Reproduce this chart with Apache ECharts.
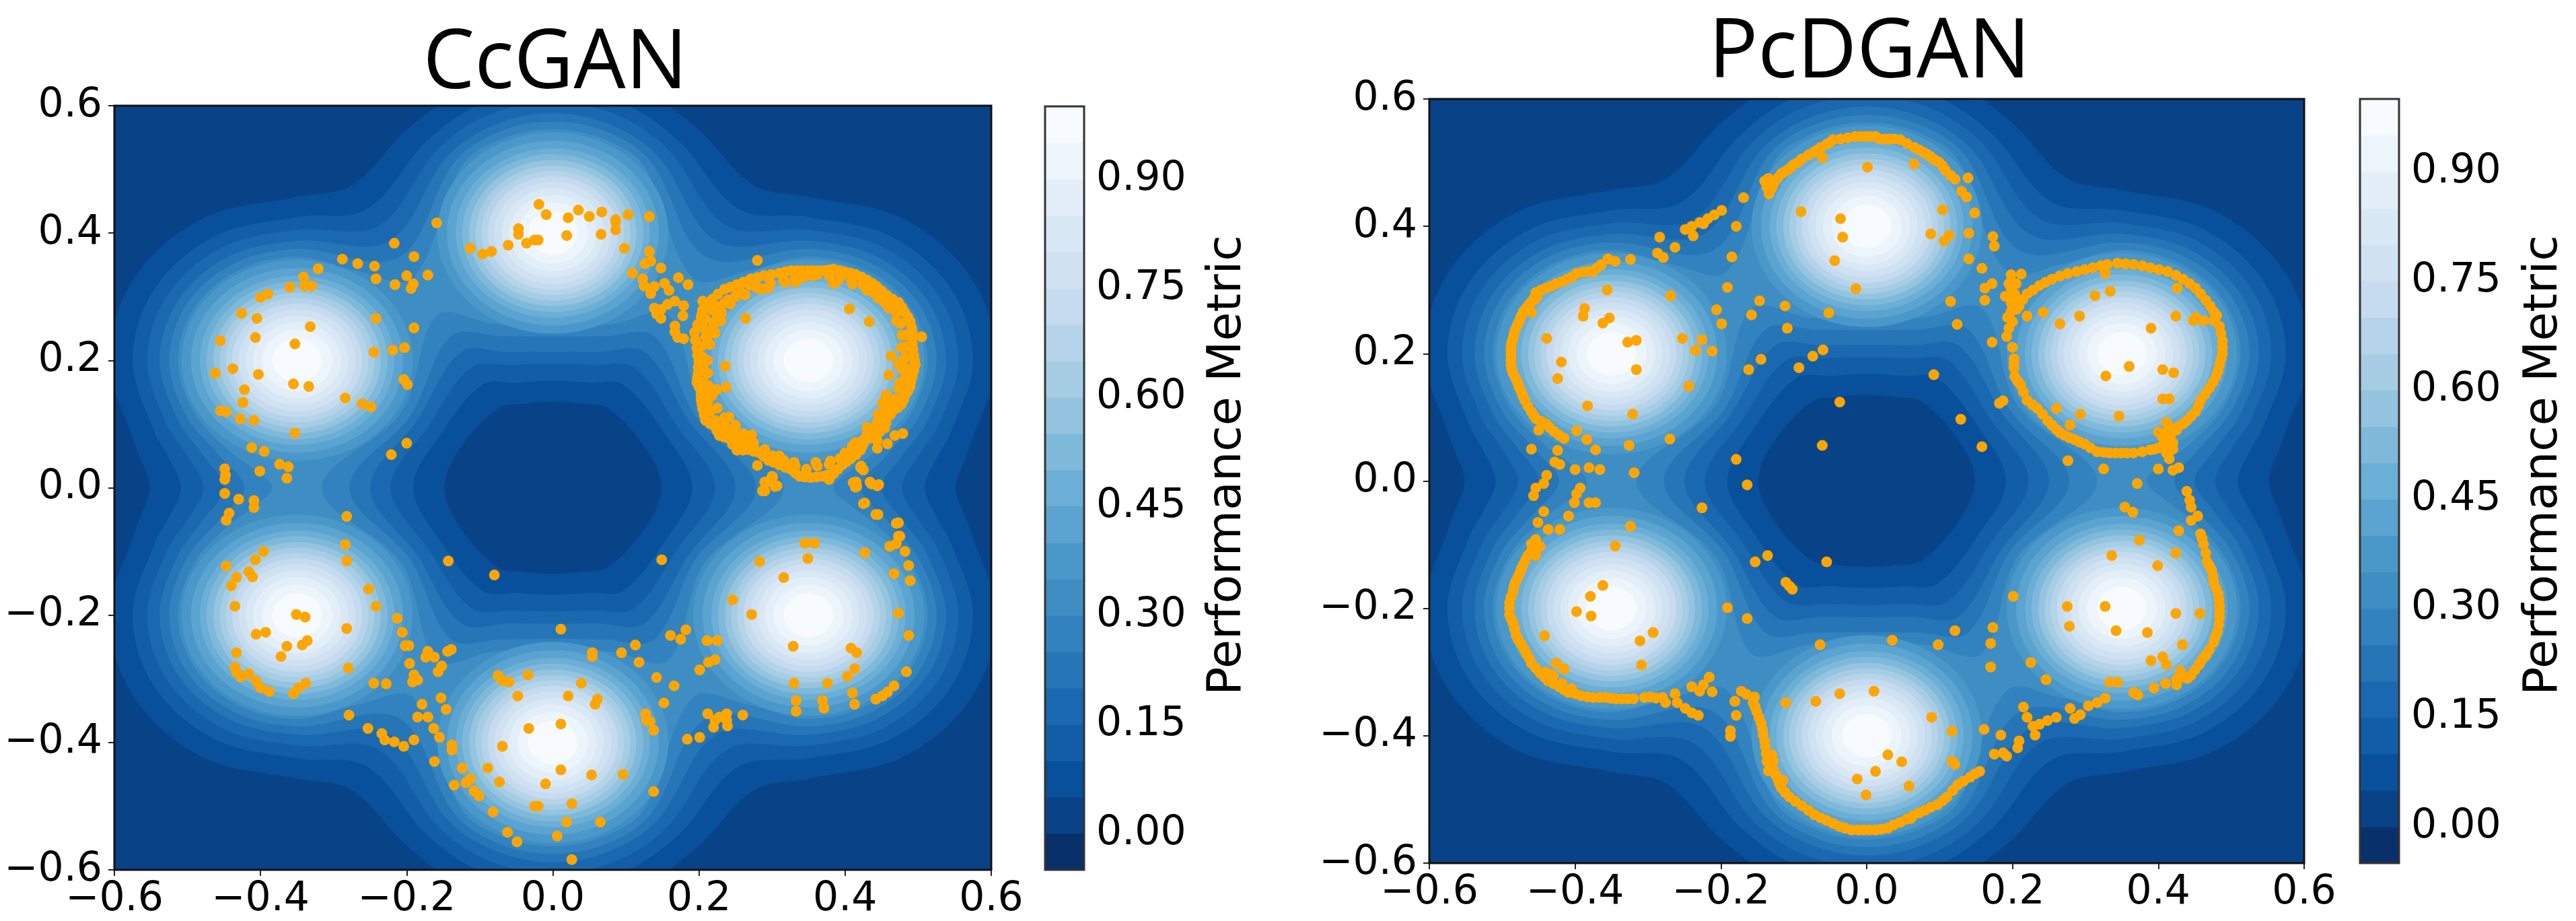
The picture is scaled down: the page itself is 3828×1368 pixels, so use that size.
<!DOCTYPE html>
<html>
<head>
<meta charset="utf-8">
<script src="https://cdn.jsdelivr.net/npm/echarts@6/dist/echarts.min.js"></script>
<style>html,body{margin:0;padding:0;background:#fff}#chart{width:3828px;height:1368px}</style>
</head>
<body>
<div id="chart"></div>
<script>
var colorbarTicks = [0, 0.15, 0.3, 0.45, 0.6, 0.75, 0.9];
var bandEdges = [-0.05, 0, 0.05, 0.1, 0.15, 0.2, 0.25, 0.3, 0.35, 0.4, 0.45, 0.5, 0.55, 0.6, 0.65, 0.7, 0.75, 0.8, 0.85, 0.9, 0.95, 1];
var bandColors = ['#08306b', '#094387', '#08509b', '#115ea7', '#1a69b0', '#2575b7', '#3282bf', '#3e8ec4', '#4a98c9', '#5ba3d0', '#6baed6', '#7fb9da', '#94c4df', '#a6cde4', '#b6d4e9', '#c6dbef', '#d0e1f2', '#d9e8f5', '#e3eef9', '#edf5fc', '#f7fbff'];

// performance metric: centres of the six bumps
var peaks = [[0, 0.4], [0.35, 0.2], [0.35, -0.2], [0, -0.4], [-0.35, -0.2], [-0.35, 0.2]];
// contour radius round a bump for the levels 0.35 .. 0.95
var ringLevels = [0.35, 0.4, 0.45, 0.5, 0.55, 0.6, 0.65, 0.7, 0.75, 0.8, 0.85, 0.9, 0.95];
var ringRadii = [0.158, 0.145, 0.133, 0.124, 0.1145, 0.106, 0.0975, 0.089, 0.08, 0.07, 0.06, 0.048, 0.034];
var mergedLevels = [0.05, 0.1, 0.15, 0.2, 0.25, 0.3];
var outerContours = [
    [[0, 0.657], [0.109, 0.633], [0.197, 0.565], [0.275, 0.475], [0.35, 0.457], [0.479, 0.423], [0.573, 0.329], [0.607, 0.2], [0.573, 0.072], [0.566, 0.05], [0.5515, 0]],
    [[0, 0.625], [0.095, 0.604], [0.172, 0.545], [0.254, 0.438], [0.35, 0.425], [0.4625, 0.395], [0.545, 0.3125], [0.575, 0.2], [0.545, 0.0875], [0.527, 0.05], [0.509, 0]],
    [[0, 0.605], [0.087, 0.586], [0.157, 0.532], [0.2385, 0.411], [0.35, 0.405], [0.4525, 0.3775], [0.5275, 0.3025], [0.555, 0.2], [0.5275, 0.0975], [0.5, 0.05], [0.478, 0]],
    [[0, 0.588], [0.079, 0.57], [0.144, 0.521], [0.2246, 0.387], [0.35, 0.388], [0.444, 0.363], [0.513, 0.294], [0.538, 0.2], [0.513, 0.106], [0.478, 0.05], [0.45, 0]],
    [[0, 0.575], [0.074, 0.559], [0.134, 0.5125], [0.2106, 0.362], [0.35, 0.375], [0.4375, 0.3516], [0.5016, 0.2875], [0.525, 0.2], [0.5016, 0.1125], [0.456, 0.05], [0.422, 0]],
    [[0, 0.563], [0.069, 0.548], [0.125, 0.505], [0.192, 0.329], [0.2685, 0.341], [0.35, 0.363], [0.4315, 0.341], [0.491, 0.2815], [0.513, 0.2], [0.491, 0.1185], [0.445, 0.06], [0.41, 0.03], [0.384, 0]]
];
var holeContours = [
    [[0, 0.135], [0.04, 0.132], [0.075, 0.125], [0.127, 0.062], [0.1485, 0]],
    [[0, 0.168], [0.05, 0.165], [0.096, 0.162], [0.153, 0.085], [0.191, 0]],
    [[0, 0.1945], [0.055, 0.193], [0.1115, 0.189], [0.17, 0.097], [0.222, 0]],
    [[0, 0.2135], [0.06, 0.213], [0.1254, 0.213], [0.185, 0.107], [0.25, 0]],
    [[0, 0.237], [0.07, 0.238], [0.139, 0.238], [0.195, 0.113], [0.278, 0]],
    [[0, 0.255], [0.08, 0.257], [0.158, 0.271], [0.207, 0.119], [0.316, 0]]
];

var ccganPoints = [
    [-0.019,0.445],[-0.009,0.429],[0.021,0.424],[0.035,0.436],[0.05,0.426],[0.067,0.433],[0.086,0.421],[0.086,0.417],[0.086,0.405],[0.103,0.429],[0.132,0.426],[0.066,0.398],[0.019,0.396],[0.098,0.376],[0.132,0.371],[0.134,0.356],[0.126,0.352],[0.148,0.345],[0.109,0.337],[0.123,0.328],[0.125,0.317],[0.139,0.316],[0.134,0.305],[0.153,0.321],[0.159,0.31],[0.172,0.33],[0.185,0.319],[0.167,0.293],[0.157,0.288],[0.179,0.286],[0.139,0.282],[0.148,0.28],[0.142,0.273],[0.148,0.266],[0.178,0.27],[0.167,0.254],[0.167,0.245],[0.171,0.236],[0.179,0.234],
    [-0.047,0.407],[-0.047,0.398],[-0.036,0.384],[-0.025,0.389],[-0.02,0.389],[-0.061,0.381],[-0.084,0.371],[-0.096,0.367],[-0.113,0.376],[-0.159,0.416],[-0.171,0.334],
    [-0.217,0.384],[-0.19,0.363],[-0.288,0.359],[-0.267,0.352],[-0.244,0.348],[-0.321,0.344],[-0.242,0.328],[-0.2,0.333],[-0.341,0.331],[-0.216,0.319],[-0.191,0.32],[-0.194,0.313],[-0.36,0.315],[-0.34,0.317],[-0.33,0.317],[-0.39,0.304],[-0.4,0.299],[-0.426,0.274],[-0.405,0.266],[-0.242,0.266],[-0.19,0.251],[-0.332,0.253],[-0.455,0.231],[-0.407,0.236],[-0.353,0.226],[-0.203,0.22],[-0.219,0.216],[-0.245,0.213],[-0.462,0.18],[-0.438,0.187],[-0.403,0.178],[-0.355,0.163],[-0.334,0.159],[-0.204,0.17],[-0.199,0.162],[-0.422,0.154],[-0.424,0.134],[-0.284,0.141],[-0.261,0.132],[-0.249,0.127],[-0.455,0.121],[-0.447,0.119],[-0.428,0.108],[-0.409,0.106],[-0.353,0.086],[-0.2,0.07],[-0.221,0.052],[-0.412,0.063],[-0.395,0.057],[-0.374,0.037],[-0.362,0.033],[-0.401,0.026],[-0.364,0.015],[-0.449,0.03],[-0.448,0.02],[-0.449,0.013],[-0.449,-0.009],[-0.43,-0.018],[-0.409,-0.02],[-0.409,-0.031],[-0.443,-0.04],[-0.447,-0.051],[-0.282,-0.045],[-0.284,-0.089],
    [-0.282,-0.115],[-0.396,-0.1],[-0.407,-0.113],[-0.447,-0.123],[-0.433,-0.141],[-0.416,-0.132],[-0.411,-0.14],[-0.44,-0.154],[-0.252,-0.159],[-0.435,-0.186],[-0.242,-0.186],[-0.213,-0.205],[-0.206,-0.227],[-0.351,-0.199],[-0.339,-0.203],[-0.282,-0.221],[-0.406,-0.23],[-0.393,-0.227],[-0.336,-0.24],[-0.343,-0.247],[-0.364,-0.249],[-0.372,-0.265],[-0.433,-0.259],[-0.435,-0.282],[-0.433,-0.289],[-0.427,-0.297],[-0.416,-0.292],[-0.406,-0.304],[-0.4,-0.314],[-0.388,-0.32],[-0.355,-0.323],[-0.348,-0.314],[-0.338,-0.307],[-0.28,-0.283],[-0.245,-0.307],[-0.228,-0.308],[-0.279,-0.357],[-0.253,-0.378],[-0.234,-0.386],[-0.23,-0.396],[-0.217,-0.399],[-0.204,-0.406],[-0.19,-0.396],
    [-0.202,-0.248],[-0.197,-0.248],[-0.171,-0.257],[-0.174,-0.266],[-0.162,-0.266],[-0.139,-0.254],[-0.144,-0.257],[-0.196,-0.276],[-0.152,-0.28],[-0.157,-0.289],[-0.19,-0.294],[-0.192,-0.305],[-0.185,-0.302],[-0.153,-0.33],[-0.179,-0.34],[-0.146,-0.348],[-0.185,-0.36],[-0.171,-0.36],[-0.163,-0.378],[-0.155,-0.392],[-0.138,-0.404],[-0.138,-0.412],[-0.162,-0.43],[-0.124,-0.44],[-0.113,-0.457],[-0.119,-0.463],[-0.135,-0.467],[-0.108,-0.476],[-0.101,-0.484],[-0.082,-0.509],[-0.089,-0.44],[-0.073,-0.462],[-0.062,-0.541],[-0.049,-0.556],[-0.025,-0.5],[-0.02,-0.5],[-0.01,-0.465],[0.011,-0.443],[0.026,-0.496],[0.019,-0.525],[0.065,-0.525],[0.006,-0.547],[0.026,-0.584],[0.053,-0.451],[0.096,-0.45],[0.138,-0.477],[-0.069,-0.406],[-0.033,-0.378],[0.011,-0.371],[-0.075,-0.295],[-0.069,-0.303],[-0.06,-0.305],[-0.034,-0.294],[-0.048,-0.327],[0.021,-0.327],[0.039,-0.307],[0.061,-0.332],[0.058,-0.34],[0.011,-0.222],[0.054,-0.259],[0.054,-0.265],[0.094,-0.259],[0.113,-0.247],[0.118,-0.274],[0.142,-0.298],[0.166,-0.311],[0.152,-0.338],[0.127,-0.355],[0.128,-0.365],[0.133,-0.367],[0.138,-0.381],[0.161,-0.232],[0.175,-0.238],[0.182,-0.223],[0.211,-0.24],[0.225,-0.24],[0.201,-0.286],[0.213,-0.274],[0.222,-0.27],[0.184,-0.395],[0.201,-0.392],[0.212,-0.355],[0.222,-0.365],[0.238,-0.355],[0.26,-0.357],[0.22,-0.376],[0.239,-0.374],[0.228,-0.36],[0.238,-0.365],
    [0.283,-0.116],[0.316,-0.141],[0.345,-0.087],[0.358,-0.087],[0.349,-0.111],[0.246,-0.176],[0.272,-0.199],[0.329,-0.249],[0.408,-0.252],[0.416,-0.259],[0.413,-0.284],[0.403,-0.296],[0.41,-0.322],[0.413,-0.34],[0.33,-0.307],[0.376,-0.307],[0.333,-0.334],[0.333,-0.351],[0.369,-0.334],[0.371,-0.346],[0.442,-0.332],[0.451,-0.327],[0.458,-0.321],[0.467,-0.311],[0.484,-0.289],[0.487,-0.232],[0.473,-0.197],[0.427,-0.102],[0.461,-0.092],[0.47,-0.088],[0.475,-0.076],[0.482,-0.1],[0.487,-0.122],[0.467,-0.135],[0.489,-0.146],[0.473,-0.055],[0.445,-0.042],[0.427,-0.024],[0.415,0.009],[0.416,0.002],[0.436,0.006],[0.446,0.005],[0.422,0.034],[0.425,0.028],[0.307,0.003],[0.29,-0.005],[0.293,0.009],[0.301,0.017],[0.149,-0.113],[-0.08,-0.137],[-0.143,-0.115],
    [0.28,0.357],[0.264,0.266],[0.406,0.281],[0.433,0.261],[0.505,0.237],[0.236,0.191],[0.237,0.158],[0.224,0.154],[0.463,0.207],[0.473,0.194],[0.46,0.177],[0.456,0.146],[0.451,0.133],[0.241,0.111],[0.272,0.083],[0.28,0.035],[0.3,0.018],[0.29,0.009],[0.287,-0.005],[0.304,0.002],[0.378,0.013],[0.421,0.032],[0.411,0.008],[0.414,0.001],[0.434,0.009],[0.444,0.003],[0.425,-0.025],[0.442,-0.042],[0.47,-0.056],[0.473,-0.076],[0.444,0.074],[0.444,0.062],[0.458,0.069],[0.468,0.082],[0.479,0.085],[0.332,0.323],[0.318,0.323],[0.384,0.321],[0.356,0.333],[0.263,0.303],[0.205,0.293],[0.286,0.312],[0.295,0.314],
    [0.31,0.337],[0.326,0.341],[0.341,0.341],[0.356,0.341],[0.372,0.341],[0.384,0.343],[0.399,0.339],[0.414,0.335],[0.43,0.326],[0.443,0.316],[0.457,0.302],[0.473,0.291],[0.482,0.275],[0.489,0.261],[0.492,0.244],[0.492,0.226],[0.494,0.208],[0.496,0.193],[0.492,0.175],[0.489,0.159],[0.482,0.145],[0.477,0.131],[0.466,0.122],[0.457,0.11],[0.454,0.094],[0.439,0.082],[0.427,0.074],[0.421,0.059],[0.408,0.046],[0.396,0.036],[0.384,0.022],[0.369,0.018],[0.353,0.016],[0.338,0.018],[0.326,0.029],[0.31,0.036],[0.295,0.043],[0.283,0.055],[0.267,0.06],[0.252,0.059],[0.24,0.078],[0.228,0.082],[0.222,0.096],[0.209,0.106],[0.205,0.124],[0.203,0.138],[0.203,0.152],[0.197,0.166],[0.199,0.18],[0.2,0.198],[0.197,0.219],[0.194,0.244],[0.203,0.268],[0.205,0.279],[0.218,0.296],[0.235,0.312],[0.252,0.319],[0.271,0.328],[0.289,0.333],
    [0.316,0.325],[0.332,0.33],[0.347,0.333],[0.362,0.335],[0.378,0.333],[0.393,0.33],[0.408,0.328],[0.424,0.319],[0.439,0.307],[0.454,0.291],[0.47,0.275],[0.476,0.258],[0.483,0.24],[0.483,0.222],[0.483,0.205],[0.485,0.187],[0.482,0.17],[0.473,0.156],[0.47,0.138],[0.457,0.131],[0.451,0.11],[0.442,0.096],[0.43,0.085],[0.414,0.071],[0.408,0.057],[0.393,0.046],[0.378,0.037],[0.362,0.034],[0.347,0.029],[0.332,0.034],[0.316,0.043],[0.301,0.05],[0.286,0.053],[0.267,0.069],[0.255,0.074],[0.24,0.089],[0.231,0.092],[0.222,0.106],[0.215,0.12],[0.212,0.134],[0.206,0.148],[0.206,0.166],[0.206,0.187],[0.205,0.205],[0.203,0.222],[0.209,0.237],[0.218,0.247],[0.222,0.261],[0.231,0.275],[0.243,0.289],[0.261,0.304],[0.28,0.314],[0.298,0.321],[0.218,0.279],[0.209,0.265],[0.206,0.251],
    [0.318,0.339],[0.334,0.341],[0.349,0.341],[0.364,0.341],[0.378,0.342],[0.392,0.341],[0.407,0.337],[0.422,0.331],[0.437,0.321],[0.45,0.309],[0.465,0.296],[0.478,0.283],[0.486,0.268],[0.491,0.252],[0.492,0.235],[0.493,0.217],[0.495,0.2],[0.494,0.184],[0.49,0.167],[0.486,0.152],[0.48,0.138],[0.472,0.126],[0.462,0.116],[0.456,0.102],[0.447,0.088],[0.433,0.078],[0.424,0.066],[0.415,0.052],[0.402,0.041],[0.39,0.029],[0.376,0.02],[0.361,0.017],[0.345,0.017],[0.332,0.023],[0.318,0.032],[0.302,0.04],[0.289,0.049],[0.275,0.057],[0.26,0.059],[0.246,0.068],[0.234,0.08],[0.225,0.089],[0.215,0.101],[0.207,0.115],[0.204,0.131],[0.203,0.145],[0.2,0.159],[0.198,0.173],[0.199,0.189],[0.198,0.208],[0.195,0.232],[0.198,0.256],[0.204,0.273],[0.211,0.287],[0.226,0.304],[0.243,0.315],[0.261,0.323],[0.28,0.33],[0.299,0.335],
    [0.225,0.27],[0.22,0.255],[0.213,0.24],[0.235,0.29],[0.25,0.3],[0.235,0.098],[0.25,0.085],[0.262,0.07],[0.275,0.063],[0.245,0.08],[0.465,0.135],[0.47,0.125],[0.455,0.125],[0.476,0.14],[0.462,0.115],[0.45,0.3],[0.465,0.285],[0.46,0.295],[0.425,0.075],[0.435,0.09],[0.41,0.065],[0.445,0.105],
    [0.215,0.29],[0.228,0.285],[0.24,0.295],[0.255,0.31],[0.27,0.318],[0.23,0.262],[0.222,0.243],[0.215,0.225],[0.212,0.2],[0.212,0.18],[0.213,0.16],[0.218,0.145],[0.225,0.125],[0.235,0.11],[0.25,0.098],[0.26,0.085],[0.275,0.07],[0.29,0.06],[0.31,0.05],[0.33,0.04],[0.36,0.04],[0.38,0.042],[0.4,0.055],[0.415,0.062],[0.43,0.095],[0.445,0.115],[0.462,0.14],[0.475,0.165],[0.479,0.185],[0.479,0.2],[0.477,0.22],[0.478,0.24],[0.47,0.262],[0.46,0.282],[0.445,0.298],[0.43,0.31],[0.41,0.32],[0.39,0.325],[0.34,0.33]
];

var pcdganPoints = [
    [-0.14,0.471],[-0.137,0.462],[-0.134,0.451],[-0.128,0.467],[-0.122,0.476],[-0.117,0.483],[-0.108,0.489],[-0.1,0.497],[-0.089,0.506],[-0.072,0.517],[-0.063,0.524],[-0.055,0.529],[-0.046,0.536],[-0.036,0.537],[-0.016,0.541],[-0.001,0.541],[0.012,0.541],[0.018,0.537],[0.031,0.537],[0.046,0.536],[0.065,0.524],[0.072,0.52],[0.083,0.513],[0.091,0.506],[0.099,0.501],[0.108,0.488],[0.121,0.474],[0.139,0.476],[0.13,0.455],[0.137,0.446],[0.148,0.421],[0.173,0.384],[0.175,0.369],[0.14,0.389],[0.14,0.349],[0.158,0.334],[0.172,0.31],[0.162,0.303],[0.162,0.284],[0.115,0.282],[0.124,0.246],[0.172,0.218],[0.182,0.122],[0.187,0.126],[0.129,0.097],[0.158,0.054],[0.092,0.167],[-0.061,0.508],[0.065,0.498],[0.001,0.493],
    [-0.036,0.412],[-0.09,0.423],[-0.033,0.383],[-0.044,0.346],[-0.015,0.302],[-0.052,0.264],[0.104,0.426],[0.088,0.388],[0.113,0.386],[0.106,0.377],
    [-0.169,0.445],[-0.199,0.425],[-0.209,0.418],[-0.218,0.412],[-0.229,0.406],[-0.24,0.4],[-0.249,0.395],[-0.224,0.404],[-0.179,0.4],[-0.238,0.385],[-0.263,0.367],[-0.284,0.383],[-0.287,0.358],[-0.279,0.351],[-0.185,0.352],[-0.191,0.304],[-0.206,0.269],[-0.199,0.247],[-0.158,0.261],[-0.147,0.283],[-0.112,0.275],[-0.109,0.24],[-0.145,0.191],[-0.162,0.175],[-0.093,0.178],[-0.074,0.196],[-0.06,0.206],[-0.037,0.124],[-0.061,0.056],[-0.179,0.034],[-0.164,-0.006],[-0.226,-0.042],[-0.153,-0.127],[-0.136,-0.117],[-0.055,-0.127],[-0.111,-0.159],[-0.106,-0.165],[-0.102,-0.17],[-0.191,-0.199],[-0.164,-0.216],[-0.064,-0.257],[0.035,-0.25],[0.098,-0.257],[0.121,-0.235],[0.173,-0.23],[0.17,-0.255],[0.17,-0.292],[0.201,-0.181],[0.225,-0.285],[0.246,-0.312],
    [-0.324,0.348],[-0.355,0.349],[-0.364,0.34],[-0.375,0.329],[-0.389,0.328],[-0.398,0.326],[-0.411,0.317],[-0.426,0.31],[-0.44,0.303],[-0.454,0.296],[-0.457,0.286],[-0.465,0.275],[-0.471,0.266],[-0.476,0.252],[-0.482,0.238],[-0.485,0.224],[-0.488,0.211],[-0.488,0.197],[-0.488,0.183],[-0.485,0.169],[-0.479,0.155],[-0.474,0.141],[-0.469,0.127],[-0.46,0.109],[-0.454,0.098],[-0.44,0.09],[-0.429,0.078],[-0.415,0.067],[-0.398,0.079],[-0.384,0.065],[-0.372,0.049],[-0.46,0.05],[-0.424,0.048],[-0.428,0.03],[-0.421,0.026],[-0.439,0.009],[-0.4,0.018],[-0.381,0.021],[-0.366,0.018],[-0.319,0.013],[-0.393,-0.011],[-0.398,-0.02],[-0.401,-0.034],[-0.381,-0.034],[-0.372,-0.034],[-0.454,-0.011],[-0.443,-0.004],[-0.457,-0.023],[-0.443,-0.048],[-0.451,-0.065],[-0.437,-0.076],[-0.454,-0.092],[-0.409,-0.055],[-0.421,-0.076],[-0.46,-0.099],[-0.448,-0.103],[-0.454,-0.117],
    [-0.356,0.3],[-0.269,0.291],[-0.387,0.271],[-0.389,0.259],[-0.362,0.248],[-0.353,0.256],[-0.328,0.218],[-0.316,0.221],[-0.439,0.224],[-0.419,0.187],[-0.424,0.161],[-0.316,0.175],[-0.383,0.118],[-0.321,0.105],[-0.326,0.056],[-0.27,0.066],[-0.253,0.224],[-0.226,0.222],[-0.235,0.205],[-0.212,0.204],[-0.244,0.149],
    [-0.324,-0.071],[-0.345,-0.102],[-0.465,-0.117],[-0.471,-0.131],[-0.476,-0.145],[-0.482,-0.159],[-0.485,-0.173],[-0.49,-0.191],[-0.49,-0.21],[-0.485,-0.223],[-0.481,-0.242],[-0.474,-0.256],[-0.467,-0.271],[-0.46,-0.286],[-0.448,-0.302],[-0.437,-0.314],[-0.422,-0.323],[-0.409,-0.332],[-0.392,-0.337],[-0.375,-0.34],[-0.358,-0.34],[-0.344,-0.342],[-0.328,-0.342],[-0.297,-0.339],[-0.289,-0.341],[-0.276,-0.348],[-0.263,-0.334],[-0.26,-0.348],[-0.24,-0.323],[-0.229,-0.33],[-0.224,-0.32],[-0.216,-0.308],[-0.212,-0.331],[-0.249,-0.357],[-0.24,-0.364],[-0.231,-0.368],[-0.426,-0.286],[-0.415,-0.295],
    [-0.362,-0.164],[-0.379,-0.181],[-0.398,-0.205],[-0.378,-0.212],[-0.442,-0.243],[-0.293,-0.238],[-0.311,-0.251],[-0.309,-0.289],
    [-0.172,-0.33],[-0.154,-0.339],[-0.181,-0.346],[-0.179,-0.368],[-0.187,-0.392],[-0.187,-0.401],[-0.156,-0.348],[-0.151,-0.362],[-0.145,-0.38],[-0.142,-0.399],[-0.139,-0.417],[-0.137,-0.44],[-0.128,-0.454],[-0.122,-0.468],[-0.117,-0.482],[-0.106,-0.496],[-0.089,-0.51],[-0.072,-0.524],[-0.055,-0.533],[-0.038,-0.542],[-0.021,-0.548],[-0.004,-0.548],[0.012,-0.548],[0.029,-0.545],[0.046,-0.536],[0.063,-0.526],[0.08,-0.517],[0.097,-0.508],[0.11,-0.496],[0.125,-0.477],[0.142,-0.465],[0.155,-0.456],[0.175,-0.429],[0.187,-0.427],[0.192,-0.432],[0.207,-0.419],[0.209,-0.408],[0.184,-0.399],[0.161,-0.39],[0.117,-0.44],[0.121,-0.445],[-0.111,-0.348],[-0.07,-0.346],[-0.037,-0.334],[0.01,-0.33],
    [0.089,-0.371],[0.117,-0.393],[0.029,-0.43],[0.048,-0.441],[0.012,-0.456],[-0.013,-0.468],[-0.001,-0.493],[0.058,-0.479],
    [0.215,-0.355],[0.22,-0.371],[0.228,-0.385],[0.231,-0.399],[0.237,-0.382],[0.248,-0.376],[0.26,-0.371],[0.279,-0.357],[0.285,-0.373],[0.293,-0.367],[0.304,-0.353],[0.316,-0.348],[0.327,-0.341],[0.366,-0.332],[0.372,-0.336],[0.394,-0.325],[0.425,-0.32],[0.425,-0.311],[0.445,-0.305],[0.456,-0.288],[0.465,-0.274],[0.476,-0.253],[0.481,-0.237],[0.484,-0.214],[0.484,-0.196],[0.482,-0.177],[0.476,-0.159],[0.473,-0.14],[0.467,-0.127],[0.462,-0.099],[0.458,-0.083],[0.333,-0.316],[0.344,-0.316],
    [0.336,-0.117],[0.374,-0.093],[0.424,-0.113],[0.399,-0.133],[0.275,-0.197],[0.278,-0.228],[0.327,-0.197],[0.342,-0.235],[0.385,-0.238],[0.424,-0.208],[0.457,-0.208],[0.433,-0.257],[0.39,-0.282],[0.406,-0.276],[0.411,-0.288],[0.354,-0.041],[0.365,-0.049],[0.428,-0.078],
    [0.445,-0.062],[0.454,-0.055],[0.445,-0.041],[0.443,-0.03],[0.439,-0.016],[0.371,-0.004],[0.42,0.017],[0.428,0.021],[0.4,0.019],[0.325,0.019],[0.276,0.032],
    [0.198,0.324],[0.212,0.325],[0.198,0.303],[0.203,0.294],[0.198,0.28],[0.198,0.266],[0.193,0.257],[0.192,0.227],[0.202,0.192],[0.202,0.178],[0.203,0.164],[0.211,0.151],[0.22,0.127],[0.234,0.114],[0.248,0.095],[0.26,0.081],[0.271,0.072],[0.285,0.065],[0.299,0.058],[0.316,0.046],[0.333,0.044],[0.349,0.044],[0.366,0.044],[0.389,0.049],[0.4,0.052],[0.411,0.044],[0.417,0.072],[0.4,0.077],[0.417,0.063],[0.428,0.086],[0.439,0.095],[0.451,0.109],[0.458,0.127],[0.47,0.146],[0.479,0.164],[0.484,0.183],[0.488,0.201],[0.488,0.22],[0.484,0.243],[0.476,0.266],[0.465,0.284],[0.451,0.303],[0.434,0.317],[0.413,0.329],[0.389,0.335],[0.366,0.34],[0.344,0.342],[0.321,0.338],[0.299,0.332],[0.276,0.326],[0.254,0.317],[0.237,0.307],[0.22,0.294],[0.209,0.275],[0.22,0.259],[0.476,0.252],
    [0.424,0.259],[0.448,0.252],[0.462,0.252],[0.313,0.291],[0.334,0.298],[0.327,0.326],[0.242,0.265],[0.265,0.247],[0.292,0.259],[0.39,0.24],[0.328,0.165],[0.36,0.18],[0.406,0.175],[0.421,0.17],[0.406,0.129],[0.415,0.129],[0.346,0.102],[0.293,0.105],[0.26,0.114],[0.279,0.088],[0.411,0.092],[0.426,0.303],[0.451,0.257],[0.41,0.06],[0.42,0.05],[0.405,0.07],[0.415,0.085],
    [0.33,0.34],[0.355,0.341],[0.378,0.338],[0.401,0.332],[0.424,0.323],[0.443,0.31],[0.458,0.294],[0.471,0.275],[0.48,0.26],[0.486,0.232],[0.488,0.21],[0.486,0.192],[0.482,0.173],[0.475,0.155],[0.464,0.136],[0.455,0.118],[0.445,0.102],[0.434,0.09],[0.31,0.335],[0.288,0.329],[0.265,0.322],[0.245,0.312],[0.228,0.3],[0.214,0.285],[0.206,0.27],[0.2,0.25],[0.195,0.24],[0.2,0.21],[0.202,0.185],[0.207,0.157],[0.215,0.14],[0.227,0.12],[0.241,0.105],[0.254,0.088],[0.265,0.076],[0.278,0.068],[0.292,0.061],[0.307,0.052],[0.325,0.045],[0.341,0.044],[0.357,0.044],[0.378,0.046],[0.395,0.05],[0.405,0.055],[0.415,0.05],[0.42,0.06],[0.41,0.075],[0.425,0.08],[0.415,0.035],[0.195,0.31],[0.205,0.31],[0.205,0.285],[0.19,0.29],[0.2,0.27],
    [-0.135,0.475],[-0.13,0.46],[-0.125,0.472],[-0.112,0.486],[-0.104,0.493],[-0.095,0.5],[-0.08,0.512],[-0.068,0.52],[-0.05,0.532],[-0.026,0.539],[-0.008,0.541],[0.006,0.541],[0.025,0.537],[0.038,0.537],[0.055,0.53],[0.078,0.516],[0.087,0.51],[0.095,0.503],[0.104,0.495],[0.115,0.48],
    [-0.345,0.345],[-0.37,0.335],[-0.382,0.329],[-0.405,0.32],[-0.418,0.313],[-0.433,0.306],[-0.447,0.3],[-0.452,0.29],[-0.461,0.28],[-0.468,0.27],[-0.474,0.259],[-0.479,0.245],[-0.484,0.231],[-0.487,0.218],[-0.488,0.204],[-0.488,0.19],[-0.487,0.176],[-0.482,0.162],[-0.477,0.148],[-0.472,0.134],[-0.465,0.118],[-0.457,0.103],[-0.447,0.094],[-0.435,0.084],[-0.422,0.072],[-0.455,0.285],[-0.46,0.265],[-0.45,0.08],
    [-0.46,-0.11],[-0.468,-0.124],[-0.474,-0.138],[-0.479,-0.152],[-0.484,-0.166],[-0.488,-0.182],[-0.49,-0.2],[-0.488,-0.216],[-0.483,-0.232],[-0.478,-0.249],[-0.47,-0.264],[-0.463,-0.278],[-0.454,-0.294],[-0.442,-0.308],[-0.43,-0.318],[-0.415,-0.328],[-0.4,-0.334],[-0.383,-0.339],[-0.366,-0.34],[-0.351,-0.341],[-0.336,-0.342],[-0.32,-0.342],[-0.44,-0.3],[-0.43,-0.305],[-0.418,-0.318],[-0.405,-0.326],[-0.28,-0.34],[-0.305,-0.34],
    [-0.165,-0.335],[-0.155,-0.342],[-0.153,-0.355],[-0.148,-0.371],[-0.143,-0.39],[-0.14,-0.408],[-0.138,-0.428],[-0.132,-0.447],[-0.125,-0.461],[-0.12,-0.475],[-0.112,-0.489],[-0.098,-0.503],[-0.08,-0.517],[-0.063,-0.529],[-0.046,-0.538],[-0.03,-0.545],[-0.012,-0.548],[0.004,-0.548],[0.02,-0.547],[0.037,-0.54],[0.055,-0.531],[0.072,-0.521],[0.088,-0.512],[0.104,-0.502],[0.118,-0.486],[0.133,-0.471],[0.148,-0.46],[0.06,-0.53],[-0.13,-0.43],[-0.135,-0.455],[-0.128,-0.44],[-0.115,-0.47],
    [0.478,-0.245],[0.483,-0.225],[0.484,-0.205],[0.483,-0.186],[0.479,-0.168],[0.475,-0.15],[0.47,-0.133],[0.465,-0.113],[0.46,-0.09],[0.47,-0.265],[0.46,-0.28],[0.45,-0.297],[0.435,-0.308],[0.41,-0.318],[0.43,-0.298],[0.44,-0.31]
];

var labelFont = 'DejaVu Sans';
var panels = [
    {title: 'CcGAN', points: ccganPoints, plot: [170, 157, 1303, 1135], bar: [1553, 158, 58, 1134], titleX: 820, titleY: 30, nameX: 1825, nameY: 691},
    {title: 'PcDGAN', points: pcdganPoints, plot: [2124, 147, 1300, 1135], bar: [3507, 147, 58, 1135], titleX: 2773, titleY: 14, nameX: 3781, nameY: 691}
];

function mirrorQuarter(q) {
    var out = [], i;
    for (i = 0; i < q.length; i++) out.push([q[i][0], q[i][1]]);
    for (i = q.length - 2; i >= 0; i--) out.push([q[i][0], -q[i][1]]);
    for (i = 1; i < q.length; i++) out.push([-q[i][0], -q[i][1]]);
    for (i = q.length - 2; i >= 1; i--) out.push([-q[i][0], q[i][1]]);
    return out;
}

// painter's order: base, outer outlines going up, holes going down, then the rings of each bump
var fieldShapes = [{corners: [[-0.6, 0.6], [0.6, -0.6]], color: bandColors[1]}];
mergedLevels.forEach(function (lv, i) {
    fieldShapes.push({points: mirrorQuarter(outerContours[i]), color: bandColors[i + 2]});
});
for (var h = mergedLevels.length - 1; h >= 0; h--) {
    fieldShapes.push({points: mirrorQuarter(holeContours[h]), color: bandColors[h + 1]});
}
ringLevels.forEach(function (lv, i) {
    peaks.forEach(function (p) {
        fieldShapes.push({center: p, radius: ringRadii[i], color: bandColors[i + 8]});
    });
});

function renderField(params, api) {
    var s = fieldShapes[api.value(0)];
    if (s.corners) {
        var tl = api.coord(s.corners[0]), br = api.coord(s.corners[1]);
        return {type: 'rect', shape: {x: tl[0], y: tl[1], width: br[0] - tl[0], height: br[1] - tl[1]}, style: {fill: s.color}};
    }
    if (s.points) {
        return {
            type: 'polygon',
            shape: {points: s.points.map(function (p) { return api.coord(p); }), smooth: 0.35},
            style: {fill: s.color}
        };
    }
    var c = api.coord(s.center);
    return {
        type: 'ellipse',
        shape: {cx: c[0], cy: c[1], rx: api.size([s.radius, 0])[0], ry: api.size([0, s.radius])[1]},
        style: {fill: s.color}
    };
}

function renderBand(params, api) {
    var i = api.value(0);
    var a = api.coord([0, bandEdges[i + 1]]);
    var b = api.coord([1, bandEdges[i]]);
    return {type: 'rect', shape: {x: a[0], y: a[1], width: b[0] - a[0], height: b[1] - a[1] + 0.5}, style: {fill: bandColors[i]}};
}

function tickLabel(v) {
    return v.toFixed(1).replace('-', '\u2212');
}

var option = {
    animation: false,
    backgroundColor: '#fff',
    title: [], grid: [], xAxis: [], yAxis: [], series: [], graphic: []
};

panels.forEach(function (p, n) {
    var a = n * 2, b = n * 2 + 1;
    option.title.push({
        text: p.title, left: p.titleX, top: p.titleY, textAlign: 'center',
        textStyle: {fontFamily: 'Open Sans', fontWeight: 'normal', fontSize: 122, color: '#000'}
    });
    // grids sit above the fills so the frame stays visible
    option.grid.push({left: p.plot[0], top: p.plot[1], width: p.plot[2], height: p.plot[3], show: true, backgroundColor: 'transparent', borderColor: '#111', borderWidth: 3, z: 5});
    option.grid.push({left: p.bar[0], top: p.bar[1], width: p.bar[2], height: p.bar[3], show: true, backgroundColor: 'transparent', borderColor: '#333', borderWidth: 3, z: 5});
    var lineStyle = {color: '#222', width: 2};
    option.xAxis.push({
        gridIndex: a, type: 'value', min: -0.6, max: 0.6, interval: 0.2, splitLine: {show: false},
        axisLine: {show: false, onZero: false}, axisTick: {show: true, length: 9, lineStyle: lineStyle},
        axisLabel: {fontFamily: labelFont, fontSize: 60, color: '#000', margin: 14, formatter: tickLabel, showMinLabel: true, showMaxLabel: true, hideOverlap: false}
    });
    option.yAxis.push({
        gridIndex: a, type: 'value', min: -0.6, max: 0.6, interval: 0.2, splitLine: {show: false},
        axisLine: {show: false, onZero: false}, axisTick: {show: true, length: 9, lineStyle: lineStyle},
        axisLabel: {fontFamily: labelFont, fontSize: 60, color: '#000', margin: 18, formatter: tickLabel, showMinLabel: true, showMaxLabel: true, hideOverlap: false}
    });
    option.xAxis.push({gridIndex: b, type: 'value', min: 0, max: 1, show: false});
    option.yAxis.push({
        gridIndex: b, type: 'value', position: 'right', min: -0.05, max: 1, splitLine: {show: false},
        axisLine: {show: false},
        axisTick: {show: true, length: 9, lineStyle: lineStyle, customValues: colorbarTicks},
        axisLabel: {fontFamily: labelFont, fontSize: 60, color: '#000', margin: 18, customValues: colorbarTicks, formatter: function (v) { return v.toFixed(2); }}
    });
    option.series.push({
        type: 'custom', xAxisIndex: a, yAxisIndex: a, clip: true, z: 1, silent: true,
        renderItem: renderField,
        data: fieldShapes.map(function (s, i) { return [i]; }),
        encode: {x: -1, y: -1}
    });
    option.series.push({
        type: 'scatter', xAxisIndex: a, yAxisIndex: a, z: 2, symbolSize: 16, silent: true,
        itemStyle: {color: '#ffa500', opacity: 1},
        data: p.points
    });
    option.series.push({
        type: 'custom', xAxisIndex: b, yAxisIndex: b, z: 1, silent: true,
        renderItem: renderBand,
        data: bandColors.map(function (c, i) { return [i]; }),
        encode: {x: -1, y: -1}
    });
    option.graphic.push({
        type: 'text', x: p.nameX, y: p.nameY, rotation: Math.PI / 2,
        style: {text: 'Performance Metric', fontFamily: labelFont, fontSize: 70, fill: '#000', textAlign: 'center', textVerticalAlign: 'middle'}
    });
});

var myChart = echarts.init(document.getElementById('chart'), null, {renderer: 'canvas', width: 3828, height: 1368});
myChart.setOption(option);
</script>
</body>
</html>
